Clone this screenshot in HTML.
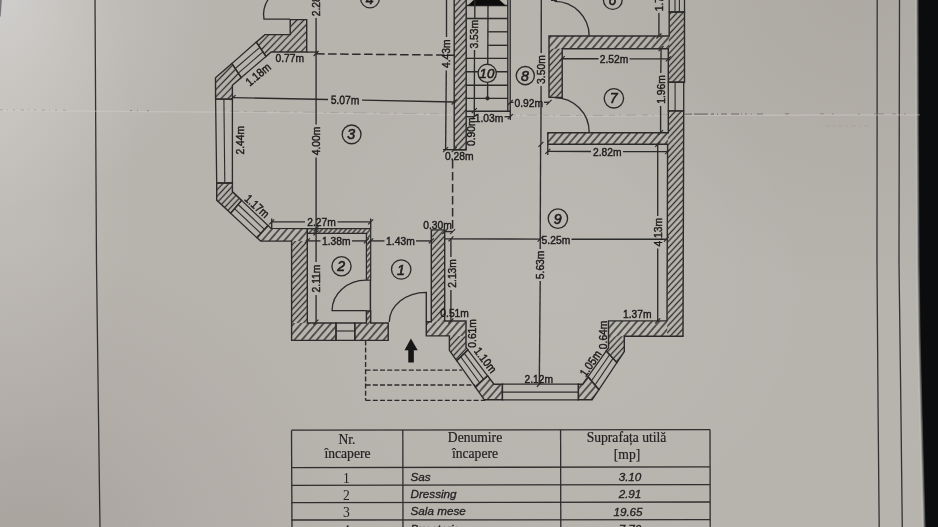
<!DOCTYPE html>
<html><head><meta charset="utf-8"><title>Plan parter</title>
<style>
html,body{margin:0;padding:0;background:#b7b3ad;}
body{width:938px;height:527px;overflow:hidden;position:relative;font-family:"Liberation Sans",sans-serif;}
svg{position:absolute;left:0;top:0;display:block}
.d{font-family:"Liberation Sans",sans-serif;fill:#1c1c1c;stroke:#1c1c1c;stroke-width:0.38px;}
.c{font-family:"Liberation Sans",sans-serif;font-style:italic;fill:#1e1e1e;stroke:#1e1e1e;stroke-width:0.6px;}
.th{font-family:"Liberation Serif",serif;fill:#222;stroke:#222;stroke-width:0.2px;}
.td{font-family:"Liberation Sans",sans-serif;font-style:italic;fill:#222;stroke:#222;stroke-width:0.3px;}
.tn{font-family:"Liberation Serif",serif;fill:#222;}
</style></head><body>
<svg width="938" height="527" viewBox="0 0 938 527">
<defs>
<pattern id="hv" width="4.4" height="4.4" patternUnits="userSpaceOnUse" patternTransform="rotate(-47)">
<line x1="-1" y1="2.2" x2="6" y2="2.2" stroke="#2b2b2b" stroke-width="1.3"/>
</pattern>
<pattern id="hh" width="5.6" height="5.6" patternUnits="userSpaceOnUse" patternTransform="rotate(-49)">
<line x1="-1" y1="2.8" x2="7" y2="2.8" stroke="#2b2b2b" stroke-width="1.35"/>
</pattern>
<pattern id="h2" width="5" height="5" patternUnits="userSpaceOnUse" patternTransform="rotate(-46)">
<line x1="-1" y1="2.5" x2="6" y2="2.5" stroke="#2b2b2b" stroke-width="1.3"/>
</pattern>
<pattern id="h3" width="3.7" height="3.7" patternUnits="userSpaceOnUse" patternTransform="rotate(-50)">
<line x1="-1" y1="1.85" x2="5" y2="1.85" stroke="#2b2b2b" stroke-width="1.3"/>
</pattern>
<radialGradient id="g1" gradientUnits="userSpaceOnUse" cx="0" cy="0" r="210">
<stop offset="0" stop-color="#e9eaf0" stop-opacity="0.42"/><stop offset="0.35" stop-color="#e4e3e4" stop-opacity="0.27"/><stop offset="1" stop-color="#e0dfdd" stop-opacity="0"/>
</radialGradient>
<radialGradient id="g2" gradientUnits="userSpaceOnUse" cx="30" cy="570" r="330">
<stop offset="0" stop-color="#4c3e3a" stop-opacity="0.15"/><stop offset="0.5" stop-color="#4c3e3a" stop-opacity="0.06"/><stop offset="1" stop-color="#4c3e3a" stop-opacity="0"/>
</radialGradient>
<radialGradient id="g3" gradientUnits="userSpaceOnUse" cx="860" cy="-20" r="320">
<stop offset="0" stop-color="#4a443e" stop-opacity="0.1"/><stop offset="1" stop-color="#4a443e" stop-opacity="0"/>
</radialGradient>
<radialGradient id="g4" gradientUnits="userSpaceOnUse" cx="560" cy="290" r="260">
<stop offset="0" stop-color="#ffffff" stop-opacity="0.07"/><stop offset="1" stop-color="#ffffff" stop-opacity="0"/>
</radialGradient>
<radialGradient id="g5" gradientUnits="userSpaceOnUse" cx="0" cy="0" r="1" gradientTransform="translate(0 140) scale(135 330)">
<stop offset="0" stop-color="#e6e4e2" stop-opacity="0.22"/><stop offset="1" stop-color="#e6e4e2" stop-opacity="0"/>
</radialGradient>
<filter id="soft" x="-2%" y="-2%" width="104%" height="104%"><feGaussianBlur stdDeviation="0.45"/></filter>
<filter id="soft2"><feGaussianBlur stdDeviation="0.9"/></filter>
</defs>
<rect width="938" height="527" fill="#b7b3ad"/>
<rect x="0" y="0" width="140" height="527" fill="url(#g5)"/>
<rect width="938" height="527" fill="url(#g1)"/>
<rect width="938" height="527" fill="url(#g2)"/>
<rect width="938" height="527" fill="url(#g3)"/>
<rect width="938" height="527" fill="url(#g4)"/>
<polygon points="0,0 1.8,0 0.7,16 0,17" fill="#56565c" fill-opacity="0.75"/>
<!-- dark right edge -->
<polyline points="916.2,-5 916.6,130 917.2,263 918.3,340 919.8,400 921.4,460 923.4,532" fill="none" stroke="#d0cfcc" stroke-width="2.2" stroke-opacity="0.55"/>
<polygon points="917.6,-5 918,130 918.6,263 919.7,340 921.2,400 922.8,460 924.8,532 945,532 945,-5" fill="#0b0c0e" filter="url(#soft2)"/>
<polygon points="918.8,-5 919.2,130 919.8,263 920.9,340 922.4,400 924,460 926,532 945,532 945,-5" fill="#0b0c0e"/>
<g filter="url(#soft)">
<!-- page frame lines -->
<polyline points="95,-2 96.5,264 100,529" fill="none" stroke="#333" stroke-width="1.3"/>
<polyline points="877.2,-2 877,263 878,400 879.2,529" fill="none" stroke="#333" stroke-width="1.3"/>
<polyline points="899.5,-2 899,263 900.8,400 902.3,529" fill="none" stroke="#333" stroke-width="1.3"/>
<!-- fold line -->
<polyline points="0,110.6 280,112.6 580,116.4 700,115.4 920,114.8" fill="none" stroke="#d6d3ce" stroke-width="1.3" stroke-opacity="0.4"/>
<polyline points="0,109.8 70,110.3" fill="none" stroke="#6e6a65" stroke-width="0.9" stroke-dasharray="3 4 1 5 2 6" stroke-opacity="0.4"/>
<polyline points="130,110.6 170,111" fill="none" stroke="#5e5a55" stroke-width="1" stroke-dasharray="2 5 1 9 2 30" stroke-opacity="0.5"/>
<polyline points="230,111.3 280,111.8 454,114.2" fill="none" stroke="#7a7671" stroke-width="0.9" stroke-dasharray="9 5 3 6 14 7 2 4" stroke-opacity="0.35"/>
<polyline points="510,115 580,115.6 668,114.9" fill="none" stroke="#7a7671" stroke-width="0.9" stroke-dasharray="6 4 2 5 10 6" stroke-opacity="0.4"/>
<polyline points="684,114.2 742,114" fill="none" stroke="#55514d" stroke-width="1.1" stroke-dasharray="8 2 14 3 3 3 1 3 6 4" stroke-opacity="0.7"/>
<polyline points="745,114 800,113.8" fill="none" stroke="#5e5a55" stroke-width="1" stroke-dasharray="2 4 1 5 6 22 4 30" stroke-opacity="0.6"/>
<polyline points="820,113.8 915,114" fill="none" stroke="#6e6a65" stroke-width="1" stroke-dasharray="4 8 2 24 2 14 10 8" stroke-opacity="0.5"/>
<line x1="825" y1="126" x2="870" y2="126" stroke="#8a8681" stroke-width="0.8" stroke-dasharray="5 3 2 3" stroke-opacity="0.4"/>
<polygon points="454.2,-5.0 466.2,-5.0 466.2,149.7 454.2,149.7" fill="url(#hv)" stroke="none"/>
<polygon points="454.2,-5.0 466.2,-5.0 466.2,149.7 454.2,149.7" fill="none" stroke="#2b2b2b" stroke-width="1.4"/>
<polygon points="290.2,19.6 306.7,19.6 306.7,52.0 271.2,52.0 266.0,56.4 256.3,42.1 264.9,34.6 290.2,34.6" fill="url(#h2)" stroke="none"/>
<polygon points="290.2,19.6 306.7,19.6 306.7,52.0 271.2,52.0 266.0,56.4 256.3,42.1 264.9,34.6 290.2,34.6" fill="none" stroke="#2b2b2b" stroke-width="1.4"/>
<polygon points="256.3,42.1 231.9,63.5 241.3,77.6 266.0,56.4" fill="none" stroke="#2b2b2b" stroke-width="1.3"/>
<line x1="259.8" y1="47.3" x2="235.3" y2="68.5" stroke="#2b2b2b" stroke-width="1.1"/>
<line x1="262.9" y1="51.9" x2="238.3" y2="73.1" stroke="#2b2b2b" stroke-width="1.1"/>
<polygon points="231.9,63.5 215.5,77.8 215.6,99.1 232.4,99.1 232.4,85.2 241.3,77.6" fill="url(#h2)" stroke="none"/>
<polygon points="231.9,63.5 215.5,77.8 215.6,99.1 232.4,99.1 232.4,85.2 241.3,77.6" fill="none" stroke="#2b2b2b" stroke-width="1.4"/>
<polygon points="215.6,99.1 232.4,99.1 232.4,183.0 216.7,183.0" fill="none" stroke="#2b2b2b" stroke-width="1.3"/>
<line x1="223.9" y1="99.1" x2="224.8" y2="183.0" stroke="#2b2b2b" stroke-width="1.1"/>
<polygon points="216.7,183.0 216.7,200.1 230.7,213.2 241.6,200.4 232.4,191.6 232.4,183.0" fill="url(#hv)" stroke="none"/>
<polygon points="216.7,183.0 216.7,200.1 230.7,213.2 241.6,200.4 232.4,191.6 232.4,183.0" fill="none" stroke="#2b2b2b" stroke-width="1.4"/>
<polygon points="230.7,213.2 256.8,237.6 268.0,225.6 241.6,200.4" fill="none" stroke="#2b2b2b" stroke-width="1.3"/>
<line x1="234.6" y1="208.6" x2="260.8" y2="233.3" stroke="#2b2b2b" stroke-width="1.1"/>
<line x1="238.1" y1="204.5" x2="264.4" y2="229.4" stroke="#2b2b2b" stroke-width="1.1"/>
<polygon points="256.8,237.6 260.6,241.1 307.3,241.1 307.3,228.6 270.9,228.4 268.0,225.6" fill="url(#hh)" stroke="none"/>
<polygon points="291.6,241.1 307.3,241.1 307.3,323.0 291.6,323.0" fill="url(#hv)" stroke="none"/>
<polygon points="291.6,323.0 336.0,323.0 336.0,340.4 291.6,340.4" fill="url(#hh)" stroke="none"/>
<polygon points="256.8,237.6 260.6,241.1 291.6,241.1 291.6,340.4 336.0,340.4 336.0,323.0 307.3,323.0 307.3,228.6 270.9,228.4 268.0,225.6" fill="none" stroke="#2b2b2b" stroke-width="1.4"/>
<polygon points="307.3,228.6 370.7,228.6 370.7,280.2 366.4,280.2 366.4,233.3 307.3,233.3" fill="url(#h3)" stroke="none"/>
<polygon points="307.3,228.6 370.7,228.6 370.7,280.2 366.4,280.2 366.4,233.3 307.3,233.3" fill="none" stroke="#2b2b2b" stroke-width="1.2"/>
<polygon points="366.4,311.0 370.7,311.0 370.7,323.0 366.4,323.0" fill="url(#h3)" stroke="none"/>
<polygon points="354.8,323.0 388.2,323.0 388.2,340.4 354.8,340.4" fill="url(#hh)" stroke="none"/>
<polygon points="366.4,311.0 366.4,323.0 354.8,323.0 354.8,340.4 388.2,340.4 388.2,323.0 370.7,323.0 370.7,311.0" fill="none" stroke="#2b2b2b" stroke-width="1.4"/>
<line x1="370.4" y1="280.2" x2="370.4" y2="311.0" stroke="#2b2b2b" stroke-width="1.5"/>
<polygon points="336.0,323.0 354.8,323.0 354.8,340.4 336.0,340.4" fill="none" stroke="#2b2b2b" stroke-width="1.3"/>
<line x1="336.0" y1="331.0" x2="354.8" y2="331.0" stroke="#2b2b2b" stroke-width="1.1"/>
<polygon points="431.3,229.9 444.7,229.9 444.7,321.4 431.3,321.4" fill="url(#hv)" stroke="none"/>
<polygon points="426.3,321.4 466.0,321.4 466.0,335.9 426.3,335.9" fill="url(#hh)" stroke="none"/>
<polygon points="449.4,335.9 466.0,335.9 466.0,347.4 467.9,349.9 456.7,360.7 449.4,350.4" fill="url(#hv)" stroke="none"/>
<polygon points="431.3,229.9 444.7,229.9 444.7,321.0 466.0,321.0 466.0,347.4 467.9,349.9 456.7,360.7 449.4,350.4 449.4,335.9 426.3,335.9 426.3,321.8 431.3,321.8" fill="none" stroke="#2b2b2b" stroke-width="1.4"/>
<polygon points="456.7,360.7 475.2,386.8 487.6,375.8 467.9,349.9" fill="none" stroke="#2b2b2b" stroke-width="1.3"/>
<line x1="460.7" y1="356.8" x2="479.7" y2="382.8" stroke="#2b2b2b" stroke-width="1.1"/>
<line x1="464.3" y1="353.4" x2="483.6" y2="379.3" stroke="#2b2b2b" stroke-width="1.1"/>
<polygon points="475.2,386.8 484.4,399.8 502.4,399.8 502.4,384.2 494.0,384.2 487.6,375.8" fill="url(#hh)" stroke="none"/>
<polygon points="475.2,386.8 484.4,399.8 502.4,399.8 502.4,384.2 494.0,384.2 487.6,375.8" fill="none" stroke="#2b2b2b" stroke-width="1.4"/>
<polygon points="502.4,384.2 578.4,384.2 578.4,399.8 502.4,399.8" fill="none" stroke="#2b2b2b" stroke-width="1.3"/>
<line x1="502.4" y1="392.1" x2="578.4" y2="392.1" stroke="#2b2b2b" stroke-width="1.1"/>
<polygon points="578.4,384.2 582.7,384.2 588.0,376.7 598.9,389.6 592.1,399.8 578.4,399.8" fill="url(#hh)" stroke="none"/>
<polygon points="578.4,384.2 582.7,384.2 588.0,376.7 598.9,389.6 592.1,399.8 578.4,399.8" fill="none" stroke="#2b2b2b" stroke-width="1.4"/>
<polygon points="598.9,389.6 616.9,362.6 606.2,351.0 588.0,376.7" fill="none" stroke="#2b2b2b" stroke-width="1.3"/>
<line x1="595.0" y1="385.0" x2="613.0" y2="358.4" stroke="#2b2b2b" stroke-width="1.1"/>
<line x1="591.5" y1="380.8" x2="609.6" y2="354.7" stroke="#2b2b2b" stroke-width="1.1"/>
<polygon points="606.2,351.0 608.5,347.8 608.5,336.3 624.3,336.3 624.3,351.5 616.9,362.6" fill="url(#hv)" stroke="none"/>
<polygon points="608.5,320.9 667.2,320.9 667.2,336.3 608.5,336.3" fill="url(#hh)" stroke="none"/>
<polygon points="667.6,144.3 683.5,144.3 683.0,336.3 667.2,336.3" fill="url(#hv)" stroke="none"/>
<polygon points="547.8,132.7 668.0,132.7 668.0,144.3 547.8,144.3" fill="url(#hh)" stroke="none"/>
<polygon points="668.0,110.9 683.7,110.9 683.5,144.3 668.0,144.3" fill="url(#hv)" stroke="none"/>
<polygon points="606.2,351.0 608.5,347.8 608.5,320.9 667.0,320.9 667.6,144.3 547.8,144.3 547.8,132.7 668.3,132.7 668.3,110.9 683.7,110.9 683.0,336.3 624.3,336.3 624.3,351.5 616.9,362.6" fill="none" stroke="#2b2b2b" stroke-width="1.4"/>
<polygon points="668.3,82.2 683.7,82.2 683.7,110.9 668.3,110.9" fill="none" stroke="#2b2b2b" stroke-width="1.3"/>
<line x1="675.1" y1="82.2" x2="675.1" y2="110.9" stroke="#2b2b2b" stroke-width="1.1"/>
<polygon points="549.0,36.0 669.2,36.0 669.2,48.7 549.0,48.7" fill="url(#hh)" stroke="none"/>
<polygon points="549.0,48.7 562.2,48.7 562.2,97.4 549.0,97.4" fill="url(#hv)" stroke="none"/>
<polygon points="669.2,12.0 684.5,12.0 684.5,82.2 668.3,82.2 668.3,48.7 669.2,36.0" fill="url(#hv)" stroke="none"/>
<polygon points="549.0,36.0 669.2,36.0 669.2,12.0 684.5,12.0 684.5,82.2 668.3,82.2 668.3,48.7 562.2,48.7 562.2,97.4 549.0,97.4" fill="none" stroke="#2b2b2b" stroke-width="1.4"/>
<polygon points="669.2,-5.0 684.5,-5.0 684.5,12.0 669.2,12.0" fill="none" stroke="#2b2b2b" stroke-width="1.3"/>
<line x1="675.0" y1="-5.0" x2="675.0" y2="12.0" stroke="#2b2b2b" stroke-width="1.1"/>
<line x1="679.4" y1="-5.0" x2="679.4" y2="12.0" stroke="#2b2b2b" stroke-width="1.1"/>
<line x1="466.2" y1="5.5" x2="508.0" y2="5.5" stroke="#2b2b2b" stroke-width="1.35"/>
<line x1="466.2" y1="18.5" x2="508.0" y2="18.5" stroke="#2b2b2b" stroke-width="1.35"/>
<line x1="466.2" y1="58.4" x2="508.0" y2="58.4" stroke="#2b2b2b" stroke-width="1.35"/>
<line x1="466.2" y1="71.7" x2="508.0" y2="71.7" stroke="#2b2b2b" stroke-width="1.35"/>
<line x1="466.2" y1="85.2" x2="508.0" y2="85.2" stroke="#2b2b2b" stroke-width="1.35"/>
<line x1="466.2" y1="98.3" x2="508.0" y2="98.3" stroke="#2b2b2b" stroke-width="1.35"/>
<line x1="488.2" y1="31.8" x2="508.0" y2="31.8" stroke="#2b2b2b" stroke-width="1.35"/>
<line x1="488.2" y1="45.3" x2="508.0" y2="45.3" stroke="#2b2b2b" stroke-width="1.35"/>
<line x1="507.8" y1="-5.0" x2="507.8" y2="111.2" stroke="#2b2b2b" stroke-width="1.35"/>
<line x1="510.2" y1="-5.0" x2="510.2" y2="111.2" stroke="#2b2b2b" stroke-width="1.35"/>
<line x1="466.2" y1="111.2" x2="510.2" y2="111.2" stroke="#2b2b2b" stroke-width="1.35"/>
<line x1="488.0" y1="5.0" x2="487.6" y2="98.3" stroke="#2b2b2b" stroke-width="1.35"/>
<circle cx="487.5" cy="98.3" r="2.1" fill="#2b2b2b"/>
<polygon points="467.8,5.5 505.6,5.5 486.6,-12" fill="#111"/>
<path d="M554.5,97.6 A34.7,34.7 0 0 1 589.2,132.5" fill="none" stroke="#2b2b2b" stroke-width="1.35"/>
<path d="M554.5,1.3 A34.7,34.7 0 0 1 589.2,36" fill="none" stroke="#2b2b2b" stroke-width="1.35"/>
<line x1="551.0" y1="0.0" x2="557.0" y2="0.0" stroke="#2b2b2b" stroke-width="2"/>
<path d="M268.3,-1 Q262,9 264,19.1 L290.2,19.1" fill="none" stroke="#2b2b2b" stroke-width="1.35"/>
<path d="M366.2,280.2 A34,30.5 0 0 0 332.1,310.6 L366.4,310.6" fill="none" stroke="#2b2b2b" stroke-width="1.35"/>
<path d="M426.3,321.8 L426.3,292.3 A37,29.8 0 0 0 389.3,322.1" fill="none" stroke="#2b2b2b" stroke-width="1.35"/>
<line x1="365.6" y1="340.4" x2="365.6" y2="400.4" stroke="#2b2b2b" stroke-width="1.35" stroke-dasharray="5 2.2"/>
<line x1="365.6" y1="370.1" x2="462.1" y2="370.1" stroke="#2b2b2b" stroke-width="1.35" stroke-dasharray="5 2.2"/>
<line x1="365.6" y1="385.0" x2="474.9" y2="385.0" stroke="#2b2b2b" stroke-width="1.35" stroke-dasharray="5 2.2"/>
<line x1="365.6" y1="400.4" x2="485.2" y2="400.4" stroke="#2b2b2b" stroke-width="1.35" stroke-dasharray="5 2.2"/>
<polygon points="410.9,338.5 417.7,350.2 413.8,350.2 413.8,362.6 408.3,362.6 408.3,350.2 404.5,350.2" fill="#151515"/>
<line x1="316.1" y1="18.0" x2="316.1" y2="53.5" stroke="#2b2b2b" stroke-width="1.35"/>
<text class="d" x="0" y="0" font-size="10.3" text-anchor="middle" dy="0.36em" transform="translate(316.1 2.0) rotate(-90) scale(1 1.15)">2.28m</text>
<line x1="313.6" y1="56.0" x2="318.6" y2="51.0" stroke="#2b2b2b" stroke-width="1.2"/>
<line x1="316.1" y1="53.8" x2="454.2" y2="55.2" stroke="#2b2b2b" stroke-width="1.5" stroke-dasharray="8.5 3.5"/>
<text class="d" x="0" y="0" font-size="10.3" text-anchor="middle" dy="0.36em" transform="translate(289.7 57.3) scale(1 1.15)">0.77m</text>
<line x1="306.7" y1="52.1" x2="318.0" y2="52.1" stroke="#2b2b2b" stroke-width="1.35"/>
<text class="d" x="0" y="0" font-size="10.3" text-anchor="middle" dy="0.36em" transform="translate(258.0 74.3) rotate(-40) scale(1 1.15)">1.18m</text>
<line x1="233.0" y1="97.6" x2="328.0" y2="99.5" stroke="#2b2b2b" stroke-width="1.35"/>
<line x1="362.0" y1="100.2" x2="454.2" y2="102.0" stroke="#2b2b2b" stroke-width="1.35"/>
<text class="d" x="0" y="0" font-size="10.3" text-anchor="middle" dy="0.36em" transform="translate(345.0 99.8) rotate(1) scale(1 1.15)">5.07m</text>
<line x1="230.5" y1="100.1" x2="235.5" y2="95.1" stroke="#2b2b2b" stroke-width="1.2"/>
<line x1="451.7" y1="104.5" x2="456.7" y2="99.5" stroke="#2b2b2b" stroke-width="1.2"/>
<line x1="316.1" y1="53.5" x2="316.1" y2="124.5" stroke="#2b2b2b" stroke-width="1.35"/>
<line x1="316.1" y1="157.5" x2="316.1" y2="262.0" stroke="#2b2b2b" stroke-width="1.35"/>
<line x1="316.1" y1="295.0" x2="316.1" y2="322.1" stroke="#2b2b2b" stroke-width="1.35"/>
<text class="d" x="0" y="0" font-size="10.3" text-anchor="middle" dy="0.36em" transform="translate(316.1 141.0) rotate(-90) scale(1 1.15)">4.00m</text>
<text class="d" x="0" y="0" font-size="10.3" text-anchor="middle" dy="0.36em" transform="translate(315.9 278.5) rotate(-90) scale(1 1.15)">2.11m</text>
<line x1="313.6" y1="231.1" x2="318.6" y2="226.1" stroke="#2b2b2b" stroke-width="1.2"/>
<line x1="313.5" y1="235.4" x2="318.5" y2="230.4" stroke="#2b2b2b" stroke-width="1.2"/>
<line x1="313.4" y1="324.6" x2="318.4" y2="319.6" stroke="#2b2b2b" stroke-width="1.2"/>
<text class="d" x="0" y="0" font-size="10.3" text-anchor="middle" dy="0.36em" transform="translate(239.3 140.2) rotate(-90) scale(1 1.15)">2.44m</text>
<text class="d" x="0" y="0" font-size="10.3" text-anchor="middle" dy="0.36em" transform="translate(257.2 206.1) rotate(42) scale(1 1.15)">1.17m</text>
<line x1="271.7" y1="221.8" x2="305.0" y2="221.8" stroke="#2b2b2b" stroke-width="1.35"/>
<line x1="337.5" y1="221.8" x2="370.7" y2="221.8" stroke="#2b2b2b" stroke-width="1.35"/>
<text class="d" x="0" y="0" font-size="10.3" text-anchor="middle" dy="0.36em" transform="translate(321.5 222.2) scale(1 1.15)">2.27m</text>
<line x1="271.7" y1="218.5" x2="271.7" y2="228.6" stroke="#2b2b2b" stroke-width="1.35"/>
<line x1="370.7" y1="218.5" x2="370.7" y2="228.6" stroke="#2b2b2b" stroke-width="1.35"/>
<line x1="269.2" y1="224.3" x2="274.2" y2="219.3" stroke="#2b2b2b" stroke-width="1.2"/>
<line x1="368.2" y1="224.3" x2="373.2" y2="219.3" stroke="#2b2b2b" stroke-width="1.2"/>
<line x1="307.3" y1="240.9" x2="320.5" y2="240.9" stroke="#2b2b2b" stroke-width="1.35"/>
<line x1="352.0" y1="240.9" x2="366.4" y2="240.9" stroke="#2b2b2b" stroke-width="1.35"/>
<text class="d" x="0" y="0" font-size="10.3" text-anchor="middle" dy="0.36em" transform="translate(336.3 240.7) scale(1 1.15)">1.38m</text>
<line x1="304.8" y1="243.4" x2="309.8" y2="238.4" stroke="#2b2b2b" stroke-width="1.2"/>
<line x1="363.9" y1="243.4" x2="368.9" y2="238.4" stroke="#2b2b2b" stroke-width="1.2"/>
<line x1="370.7" y1="240.9" x2="384.5" y2="240.9" stroke="#2b2b2b" stroke-width="1.35"/>
<line x1="416.0" y1="240.9" x2="431.3" y2="240.9" stroke="#2b2b2b" stroke-width="1.35"/>
<text class="d" x="0" y="0" font-size="10.3" text-anchor="middle" dy="0.36em" transform="translate(400.4 240.7) scale(1 1.15)">1.43m</text>
<line x1="368.2" y1="243.4" x2="373.2" y2="238.4" stroke="#2b2b2b" stroke-width="1.2"/>
<line x1="428.8" y1="243.4" x2="433.8" y2="238.4" stroke="#2b2b2b" stroke-width="1.2"/>
<text class="d" x="0" y="0" font-size="10.3" text-anchor="middle" dy="0.36em" transform="translate(437.5 224.4) scale(1 1.15)">0.30m</text>
<line x1="444.7" y1="231.6" x2="453.0" y2="231.6" stroke="#2b2b2b" stroke-width="1.35"/>
<line x1="452.6" y1="160.0" x2="452.6" y2="230.0" stroke="#2b2b2b" stroke-width="1.5" stroke-dasharray="8.5 3.5"/>
<line x1="442.2" y1="234.1" x2="447.2" y2="229.1" stroke="#2b2b2b" stroke-width="1.2"/>
<line x1="450.1" y1="234.1" x2="455.1" y2="229.1" stroke="#2b2b2b" stroke-width="1.2"/>
<line x1="444.7" y1="238.9" x2="540.0" y2="239.1" stroke="#2b2b2b" stroke-width="1.35"/>
<line x1="571.5" y1="239.2" x2="666.5" y2="239.2" stroke="#2b2b2b" stroke-width="1.35"/>
<text class="d" x="0" y="0" font-size="10.3" text-anchor="middle" dy="0.36em" transform="translate(555.9 239.3) scale(1 1.15)">5.25m</text>
<line x1="448.4" y1="241.4" x2="453.4" y2="236.4" stroke="#2b2b2b" stroke-width="1.2"/>
<line x1="664.0" y1="241.7" x2="669.0" y2="236.7" stroke="#2b2b2b" stroke-width="1.2"/>
<line x1="537.6" y1="241.6" x2="542.6" y2="236.6" stroke="#2b2b2b" stroke-width="1.2"/>
<line x1="450.9" y1="238.9" x2="450.9" y2="257.0" stroke="#2b2b2b" stroke-width="1.35"/>
<line x1="450.9" y1="290.0" x2="450.9" y2="321.0" stroke="#2b2b2b" stroke-width="1.35"/>
<text class="d" x="0" y="0" font-size="10.3" text-anchor="middle" dy="0.36em" transform="translate(451.3 273.4) rotate(-90) scale(1 1.15)">2.13m</text>
<line x1="448.4" y1="323.5" x2="453.4" y2="318.5" stroke="#2b2b2b" stroke-width="1.2"/>
<text class="d" x="0" y="0" font-size="10.3" text-anchor="middle" dy="0.36em" transform="translate(454.6 313.0) scale(1 1.15)">0.51m</text>
<text class="d" x="0" y="0" font-size="10.3" text-anchor="middle" dy="0.36em" transform="translate(471.3 333.4) rotate(-90) scale(1 1.15)">0.61m</text>
<text class="d" x="0" y="0" font-size="10.3" text-anchor="middle" dy="0.36em" transform="translate(485.6 360.0) rotate(52) scale(1 1.15)">1.10m</text>
<text class="d" x="0" y="0" font-size="10.3" text-anchor="middle" dy="0.36em" transform="translate(538.7 378.8) scale(1 1.15)">2.12m</text>
<line x1="536.8" y1="386.8" x2="541.8" y2="381.8" stroke="#2b2b2b" stroke-width="1.2"/>
<text class="d" x="0" y="0" font-size="10.3" text-anchor="middle" dy="0.36em" transform="translate(590.4 363.3) rotate(-55) scale(1 1.15)">1.05m</text>
<text class="d" x="0" y="0" font-size="10.3" text-anchor="middle" dy="0.36em" transform="translate(602.7 334.9) rotate(-90) scale(1 1.15)">0.64m</text>
<text class="d" x="0" y="0" font-size="10.3" text-anchor="middle" dy="0.36em" transform="translate(637.2 314.1) scale(1 1.15)">1.37m</text>
<line x1="655.2" y1="323.4" x2="660.2" y2="318.4" stroke="#2b2b2b" stroke-width="1.2"/>
<line x1="657.7" y1="144.3" x2="657.7" y2="216.0" stroke="#2b2b2b" stroke-width="1.35"/>
<line x1="657.7" y1="248.5" x2="657.7" y2="320.9" stroke="#2b2b2b" stroke-width="1.35"/>
<text class="d" x="0" y="0" font-size="10.3" text-anchor="middle" dy="0.36em" transform="translate(657.5 232.3) rotate(-90) scale(1 1.15)">4.13m</text>
<line x1="655.2" y1="146.8" x2="660.2" y2="141.8" stroke="#2b2b2b" stroke-width="1.2"/>
<line x1="540.6" y1="144.3" x2="540.2" y2="249.0" stroke="#2b2b2b" stroke-width="1.35"/>
<line x1="540.2" y1="281.0" x2="539.3" y2="384.3" stroke="#2b2b2b" stroke-width="1.35"/>
<text class="d" x="0" y="0" font-size="10.3" text-anchor="middle" dy="0.36em" transform="translate(540.2 264.9) rotate(-90) scale(1 1.15)">5.63m</text>
<line x1="541.3" y1="-5.0" x2="541.2" y2="53.0" stroke="#2b2b2b" stroke-width="1.35"/>
<line x1="541.1" y1="86.0" x2="540.9" y2="144.3" stroke="#2b2b2b" stroke-width="1.35"/>
<text class="d" x="0" y="0" font-size="10.3" text-anchor="middle" dy="0.36em" transform="translate(541.2 69.6) rotate(-90) scale(1 1.15)">3.50m</text>
<line x1="538.4" y1="146.8" x2="543.4" y2="141.8" stroke="#2b2b2b" stroke-width="1.2"/>
<line x1="510.3" y1="102.3" x2="513.5" y2="102.3" stroke="#2b2b2b" stroke-width="1.35"/>
<line x1="544.0" y1="102.3" x2="549.0" y2="102.3" stroke="#2b2b2b" stroke-width="1.35"/>
<text class="d" x="0" y="0" font-size="10.3" text-anchor="middle" dy="0.36em" transform="translate(528.7 103.0) scale(1 1.15)">0.92m</text>
<line x1="507.8" y1="104.8" x2="512.8" y2="99.8" stroke="#2b2b2b" stroke-width="1.2"/>
<line x1="546.5" y1="104.8" x2="551.5" y2="99.8" stroke="#2b2b2b" stroke-width="1.2"/>
<line x1="466.2" y1="116.7" x2="474.0" y2="116.7" stroke="#2b2b2b" stroke-width="1.35"/>
<line x1="504.5" y1="116.7" x2="510.5" y2="116.7" stroke="#2b2b2b" stroke-width="1.35"/>
<text class="d" x="0" y="0" font-size="10.3" text-anchor="middle" dy="0.36em" transform="translate(489.0 118.0) scale(1 1.15)">1.03m</text>
<line x1="471.8" y1="119.2" x2="476.8" y2="114.2" stroke="#2b2b2b" stroke-width="1.2"/>
<line x1="507.8" y1="119.2" x2="512.8" y2="114.2" stroke="#2b2b2b" stroke-width="1.2"/>
<line x1="510.3" y1="110.7" x2="510.3" y2="120.0" stroke="#2b2b2b" stroke-width="1.35"/>
<line x1="474.8" y1="-5.0" x2="474.8" y2="18.5" stroke="#2b2b2b" stroke-width="1.35"/>
<line x1="474.5" y1="50.0" x2="474.3" y2="117.0" stroke="#2b2b2b" stroke-width="1.35"/>
<text class="d" x="0" y="0" font-size="10.3" text-anchor="middle" dy="0.36em" transform="translate(474.0 34.2) rotate(-90) scale(1 1.15)">3.53m</text>
<line x1="471.8" y1="113.2" x2="476.8" y2="108.2" stroke="#2b2b2b" stroke-width="1.2"/>
<text class="d" x="0" y="0" font-size="10.3" text-anchor="middle" dy="0.36em" transform="translate(471.2 131.7) rotate(-90) scale(1 1.15)">0.90m</text>
<text class="d" x="0" y="0" font-size="10.3" text-anchor="middle" dy="0.36em" transform="translate(459.3 156.0) scale(1 1.15)">0.28m</text>
<line x1="443.0" y1="149.7" x2="466.2" y2="149.7" stroke="#2b2b2b" stroke-width="1.35"/>
<line x1="443.1" y1="152.2" x2="448.1" y2="147.2" stroke="#2b2b2b" stroke-width="1.2"/>
<line x1="451.7" y1="152.2" x2="456.7" y2="147.2" stroke="#2b2b2b" stroke-width="1.2"/>
<line x1="446.5" y1="-5.0" x2="446.5" y2="37.0" stroke="#2b2b2b" stroke-width="1.35"/>
<line x1="446.3" y1="70.5" x2="445.6" y2="149.7" stroke="#2b2b2b" stroke-width="1.35"/>
<text class="d" x="0" y="0" font-size="10.3" text-anchor="middle" dy="0.36em" transform="translate(446.1 53.8) rotate(-90) scale(1 1.15)">4.43m</text>
<line x1="562.2" y1="58.7" x2="598.5" y2="58.7" stroke="#2b2b2b" stroke-width="1.35"/>
<line x1="629.5" y1="58.9" x2="668.3" y2="58.9" stroke="#2b2b2b" stroke-width="1.35"/>
<text class="d" x="0" y="0" font-size="10.3" text-anchor="middle" dy="0.36em" transform="translate(614.0 58.3) scale(1 1.15)">2.52m</text>
<line x1="559.7" y1="61.2" x2="564.7" y2="56.2" stroke="#2b2b2b" stroke-width="1.2"/>
<line x1="665.8" y1="61.4" x2="670.8" y2="56.4" stroke="#2b2b2b" stroke-width="1.2"/>
<line x1="661.1" y1="48.7" x2="660.8" y2="73.0" stroke="#2b2b2b" stroke-width="1.35"/>
<line x1="660.6" y1="106.0" x2="660.6" y2="132.7" stroke="#2b2b2b" stroke-width="1.35"/>
<text class="d" x="0" y="0" font-size="10.3" text-anchor="middle" dy="0.36em" transform="translate(660.6 89.5) rotate(-90) scale(1 1.15)">1.96m</text>
<line x1="658.6" y1="51.2" x2="663.6" y2="46.2" stroke="#2b2b2b" stroke-width="1.2"/>
<line x1="658.1" y1="135.2" x2="663.1" y2="130.2" stroke="#2b2b2b" stroke-width="1.2"/>
<line x1="658.9" y1="13.0" x2="658.9" y2="36.0" stroke="#2b2b2b" stroke-width="1.35"/>
<text class="d" x="0" y="0" font-size="10.3" text-anchor="middle" dy="0.36em" transform="translate(658.9 -3.0) rotate(-90) scale(1 1.15)">1.71m</text>
<line x1="656.4" y1="38.5" x2="661.4" y2="33.5" stroke="#2b2b2b" stroke-width="1.2"/>
<line x1="547.8" y1="151.4" x2="591.0" y2="151.5" stroke="#2b2b2b" stroke-width="1.35"/>
<line x1="623.0" y1="151.6" x2="667.6" y2="151.6" stroke="#2b2b2b" stroke-width="1.35"/>
<text class="d" x="0" y="0" font-size="10.3" text-anchor="middle" dy="0.36em" transform="translate(607.3 152.0) scale(1 1.15)">2.82m</text>
<line x1="545.3" y1="153.9" x2="550.3" y2="148.9" stroke="#2b2b2b" stroke-width="1.2"/>
<line x1="665.1" y1="154.1" x2="670.1" y2="149.1" stroke="#2b2b2b" stroke-width="1.2"/>
<line x1="547.8" y1="144.3" x2="547.8" y2="155.0" stroke="#2b2b2b" stroke-width="1.35"/>
<circle cx="351.6" cy="134.4" r="9.4" fill="none" stroke="#2b2b2b" stroke-width="1.35"/>
<text class="c" x="351.3" y="134.4" font-size="14.2" text-anchor="middle" dy="0.355em">3</text>
<circle cx="341.5" cy="266.2" r="9.6" fill="none" stroke="#2b2b2b" stroke-width="1.35"/>
<text class="c" x="341.2" y="266.2" font-size="14.2" text-anchor="middle" dy="0.355em">2</text>
<circle cx="401.2" cy="269.5" r="9.7" fill="none" stroke="#2b2b2b" stroke-width="1.35"/>
<text class="c" x="400.9" y="269.5" font-size="14.2" text-anchor="middle" dy="0.355em">1</text>
<circle cx="557.9" cy="218.6" r="9.7" fill="none" stroke="#2b2b2b" stroke-width="1.35"/>
<text class="c" x="557.6" y="218.6" font-size="14.2" text-anchor="middle" dy="0.355em">9</text>
<circle cx="613.9" cy="98.3" r="9.7" fill="none" stroke="#2b2b2b" stroke-width="1.35"/>
<text class="c" x="613.6" y="98.3" font-size="14.2" text-anchor="middle" dy="0.355em">7</text>
<circle cx="525.3" cy="75.6" r="9.1" fill="none" stroke="#2b2b2b" stroke-width="1.35"/>
<text class="c" x="525.0" y="75.6" font-size="14.2" text-anchor="middle" dy="0.355em">8</text>
<circle cx="487.2" cy="73.3" r="9.1" fill="#b8b4ae" stroke="#2b2b2b" stroke-width="1.35"/>
<text class="c" x="486.9" y="73.3" font-size="13.2" text-anchor="middle" dy="0.355em">10</text>
<circle cx="370.0" cy="-1.5" r="9.4" fill="none" stroke="#2b2b2b" stroke-width="1.35"/>
<text class="c" x="369.7" y="-1.5" font-size="14.2" text-anchor="middle" dy="0.355em">4</text>
<circle cx="612.8" cy="0.0" r="9.4" fill="none" stroke="#2b2b2b" stroke-width="1.35"/>
<text class="c" x="612.5" y="0.0" font-size="14.2" text-anchor="middle" dy="0.355em">6</text>
<!-- TABLE -->
<g stroke="#2e2e2e" stroke-width="1.3" fill="none">
<line x1="291.5" y1="430.2" x2="710" y2="429.6"/>
<line x1="291.5" y1="467.7" x2="710" y2="466.8"/>
<line x1="291.5" y1="485.3" x2="710" y2="484.6"/>
<line x1="291.5" y1="502.6" x2="710" y2="502"/>
<line x1="291.5" y1="520" x2="710" y2="519.6"/>
<line x1="291.5" y1="430.2" x2="292" y2="530"/>
<line x1="402.8" y1="430" x2="403" y2="530"/>
<line x1="560.6" y1="429.8" x2="560.8" y2="530"/>
<line x1="710" y1="429.6" x2="710.2" y2="530"/>
</g>
<text class="th" x="347" y="443.5" font-size="13.6" text-anchor="middle">Nr.</text>
<text class="th" x="347.5" y="458.3" font-size="13.6" text-anchor="middle">încapere</text>
<text class="th" x="475" y="442" font-size="13.6" text-anchor="middle">Denumire</text>
<text class="th" x="475" y="457.7" font-size="13.6" text-anchor="middle">încapere</text>
<text class="th" x="626.5" y="442.3" font-size="13.6" text-anchor="middle">Suprafața utilă</text>
<text class="th" x="627" y="459.3" font-size="13.6" text-anchor="middle">[mp]</text>
<text class="tn" x="346.5" y="482.5" font-size="13.6" text-anchor="middle">1</text>
<text class="tn" x="346.5" y="499.8" font-size="13.6" text-anchor="middle">2</text>
<text class="tn" x="346.5" y="517.2" font-size="13.6" text-anchor="middle">3</text>
<text class="tn" x="346.5" y="534.6" font-size="13.6" text-anchor="middle">4</text>
<text class="td" x="410.5" y="480.8" font-size="11.7">Sas</text>
<text class="td" x="410.5" y="498" font-size="11.7">Dressing</text>
<text class="td" x="410.5" y="515.3" font-size="11.7">Sala mese</text>
<text class="td" x="410.5" y="532.6" font-size="11.7">Bucatarie</text>
<text class="td" x="630" y="481" font-size="11.7" text-anchor="middle">3.10</text>
<text class="td" x="630" y="498.3" font-size="11.7" text-anchor="middle">2.91</text>
<text class="td" x="628" y="515.6" font-size="11.7" text-anchor="middle">19.65</text>
<text class="td" x="630" y="532.9" font-size="11.7" text-anchor="middle">7.70</text>
</g>
</svg>
</body></html>
